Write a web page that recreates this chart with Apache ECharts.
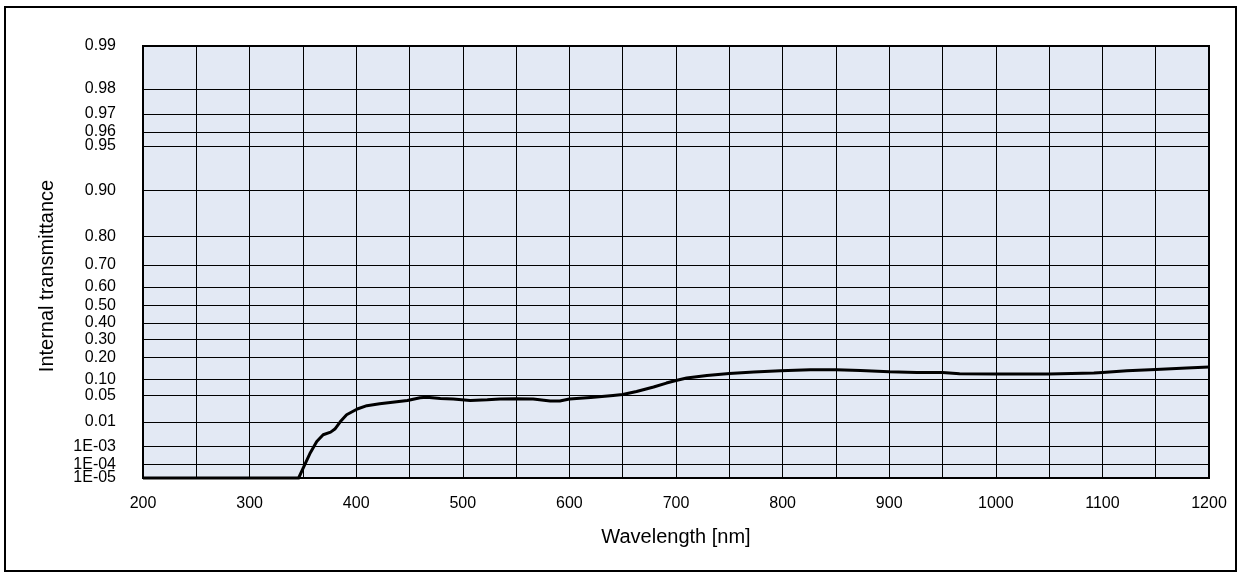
<!DOCTYPE html>
<html>
<head>
<meta charset="utf-8">
<title>Internal transmittance</title>
<script src="https://cdn.jsdelivr.net/npm/echarts@6/dist/echarts.min.js"></script>
<style>
  html, body { margin: 0; padding: 0; background: #fff; }
  #chart { width: 1239px; height: 574px; }
</style>
</head>
<body>
<div id="chart"></div>
<script>
// wavelength in nm
const wavelength = [200, 250, 300, 340, 346, 351, 357, 363, 369, 376, 380, 385, 391, 401, 410, 422, 438, 448, 460, 466,
  479, 491, 507, 523, 535, 550, 566, 582, 591, 600, 620, 641, 650, 663, 679, 691, 700, 710, 729, 750,
  773, 798, 826, 850, 873, 900, 926, 950, 966, 1000, 1050, 1092, 1100, 1123, 1150, 1179, 1200];

// internal transmittance (fraction)
const transmittance = [1e-5, 1e-5, 1e-5, 1e-5, 1e-5, 7.3e-5, 4.9e-4, 1.76e-3, 3.4e-3, 4.3e-3, 5.6e-3, 0.010, 0.0165, 0.0238, 0.029, 0.0323, 0.036, 0.0387, 0.0445, 0.0455,
  0.043, 0.0417, 0.0387, 0.040, 0.0417, 0.0423, 0.0417, 0.0375, 0.0378, 0.0417, 0.0452, 0.0499, 0.0524, 0.0603, 0.0733, 0.0864, 0.0957, 0.1047, 0.1149, 0.1232,
  0.129, 0.1348, 0.1392, 0.1392, 0.1362, 0.1303, 0.1274, 0.1274, 0.1219, 0.1206, 0.1206, 0.1248, 0.1274, 0.1348, 0.1406, 0.147, 0.1515];

// y tick values and their labels
const yTicks = [1e-5, 1e-4, 1e-3, 0.01, 0.05, 0.1, 0.2, 0.3, 0.4, 0.5, 0.6, 0.7, 0.8, 0.9, 0.95, 0.96, 0.97, 0.98, 0.99];
const yTickLabels = ['1E-05', '1E-04', '1E-03', '0.01', '0.05', '0.10', '0.20', '0.30', '0.40', '0.50', '0.60', '0.70', '0.80', '0.90', '0.95', '0.96', '0.97', '0.98', '0.99'];

// double-log probability scale
const scaleT = t => -Math.log(-Math.log(t));
const yTickPos = yTicks.map(scaleT);
const yMin = yTickPos[0];
const yMax = yTickPos[yTickPos.length - 1];

function yLabel(v) {
  let best = 0;
  for (let i = 1; i < yTickPos.length; i++) {
    if (Math.abs(yTickPos[i] - v) < Math.abs(yTickPos[best] - v)) best = i;
  }
  return yTickLabels[best];
}

const font = '"Liberation Sans", Arial, sans-serif';
const chart = echarts.init(document.getElementById('chart'), null, { renderer: 'canvas' });

chart.setOption({
  animation: false,
  backgroundColor: '#fff',
  textStyle: { fontFamily: font },
  graphic: [{
    type: 'rect',
    shape: { x: 5, y: 7, width: 1231, height: 564 },
    style: { fill: 'none', stroke: '#000', lineWidth: 2 },
    silent: true
  }, {
    // y axis title, placed by hand like the original
    type: 'text',
    x: 47, y: 276,
    rotation: Math.PI / 2,
    style: {
      text: 'Internal transmittance',
      font: '20px ' + font,
      fill: '#000',
      align: 'center',
      verticalAlign: 'middle'
    },
    silent: true
  }],
  grid: {
    left: 143, right: 30, top: 46, bottom: 96,
    show: true,
    backgroundColor: '#E3E9F4',
    borderColor: '#000',
    borderWidth: 2
  },
  xAxis: {
    type: 'value',
    min: 200, max: 1200, interval: 50,
    name: 'Wavelength [nm]',
    nameLocation: 'middle',
    nameGap: 49,
    nameTextStyle: { fontSize: 20, color: '#000', fontFamily: font },
    axisLine: { show: true, onZero: false, lineStyle: { color: '#000', width: 2 } },
    axisTick: { show: false },
    axisLabel: {
      margin: 18, fontSize: 16, color: '#000', fontFamily: font,
      formatter: v => (v % 100 === 0 ? String(v) : '')
    },
    splitLine: { show: true, lineStyle: { color: '#000', width: 1 } }
  },
  yAxis: [{
    // main axis: every tick above the bottom one
    type: 'value',
    min: yMin, max: yMax,
    axisLine: { show: true, onZero: false, lineStyle: { color: '#000', width: 2 } },
    axisTick: { show: false, customValues: yTickPos.slice(1) },
    axisLabel: {
      margin: 27, fontSize: 16, color: '#000', fontFamily: font,
      customValues: yTickPos.slice(1),
      showMinLabel: true, showMaxLabel: true, hideOverlap: false,
      formatter: v => yLabel(v)
    },
    splitLine: { show: true, lineStyle: { color: '#000', width: 1 } }
  }, {
    // bottom label only (it overlaps 1E-04 and would be dropped otherwise)
    type: 'value',
    position: 'left',
    min: yMin, max: yMax,
    axisLine: { show: false },
    axisTick: { show: false, customValues: [yMin] },
    axisLabel: {
      margin: 27, fontSize: 16, color: '#000', fontFamily: font,
      padding: [0, 0, 5, 0],
      customValues: [yMin],
      formatter: v => yLabel(v)
    },
    splitLine: { show: false }
  }],
  series: [{
    type: 'line',
    data: wavelength.map((w, i) => [w, scaleT(transmittance[i])]),
    showSymbol: false,
    smooth: false,
    clip: false,
    lineStyle: { color: '#000', width: 3, join: 'round' }
  }]
});
</script>
</body>
</html>
